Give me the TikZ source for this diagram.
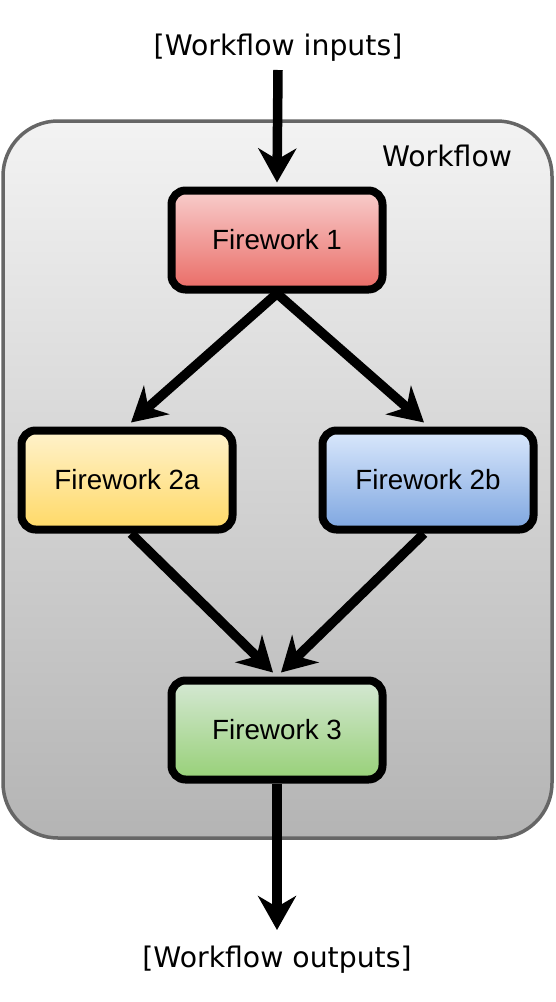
\documentclass[tikz,border=0pt]{standalone}
\usepackage{fontspec}
\setmainfont{Liberation Sans}
\newfontfamily\dejavu{DejaVu Sans}
\usetikzlibrary{arrows.meta}
\definecolor{boxline}{HTML}{666666}
\begin{document}
\begin{tikzpicture}[x=1pt,y=1pt,
  fw/.style={draw=black, line width=8pt, rounded corners=14pt, minimum width=211pt, minimum height=99pt, inner sep=0pt, font=\fontsize{27.8}{30}\selectfont},
  lbl/.style={inner sep=0pt, font=\dejavu\fontsize{28.3}{30}\selectfont},
  conn/.style={line width=9.5pt, -{Stealth[length=34pt,width=38pt,inset=11pt]}}
]
\useasboundingbox (0,0) rectangle (556,-1002);
\node[draw=boxline, line width=3.5pt, rounded corners=55pt, top color={rgb,255:red,243;green,243;blue,243}, bottom color={rgb,255:red,180;green,180;blue,180}, minimum width=549pt, minimum height=717pt, inner sep=0pt] (wf) at (277.5,-479.5) {};
\node[lbl, anchor=base] (wflbl) at (447,-166) {Workflow};
\node[lbl, anchor=base] (in) at (278,-55) {[Workflow inputs]};
\node[lbl, anchor=base] (out) at (277,-967) {[Workflow outputs]};
\node[fw, top color={rgb,255:red,248;green,206;blue,204}, bottom color={rgb,255:red,234;green,107;blue,102}] (f1) at (277,-240) {Firework 1};
\node[fw, top color={rgb,255:red,255;green,242;blue,204}, bottom color={rgb,255:red,255;green,217;blue,102}] (f2a) at (127,-480) {Firework 2a};
\node[fw, top color={rgb,255:red,218;green,232;blue,252}, bottom color={rgb,255:red,126;green,166;blue,224}] (f2b) at (428,-480) {Firework 2b};
\node[fw, top color={rgb,255:red,213;green,232;blue,212}, bottom color={rgb,255:red,151;green,208;blue,119}] (f3) at (277,-730) {Firework 3};
\coordinate (inS) at (278,-70);
\coordinate (outE) at (277,-930);
\draw[conn] (inS) -- ([yshift=4pt]f1.north);
\draw[conn] (f1.south) -- ([xshift=4pt,yshift=4pt]f2a.north);
\draw[conn] (f1.south) -- ([xshift=-4pt,yshift=4pt]f2b.north);
\draw[conn] ([xshift=4pt]f2a.south) -- ([xshift=-4pt,yshift=4pt]f3.north);
\draw[conn] ([xshift=-4pt]f2b.south) -- ([xshift=4pt,yshift=4pt]f3.north);
\draw[conn] (f3.south) -- (outE);
\end{tikzpicture}
\end{document}
